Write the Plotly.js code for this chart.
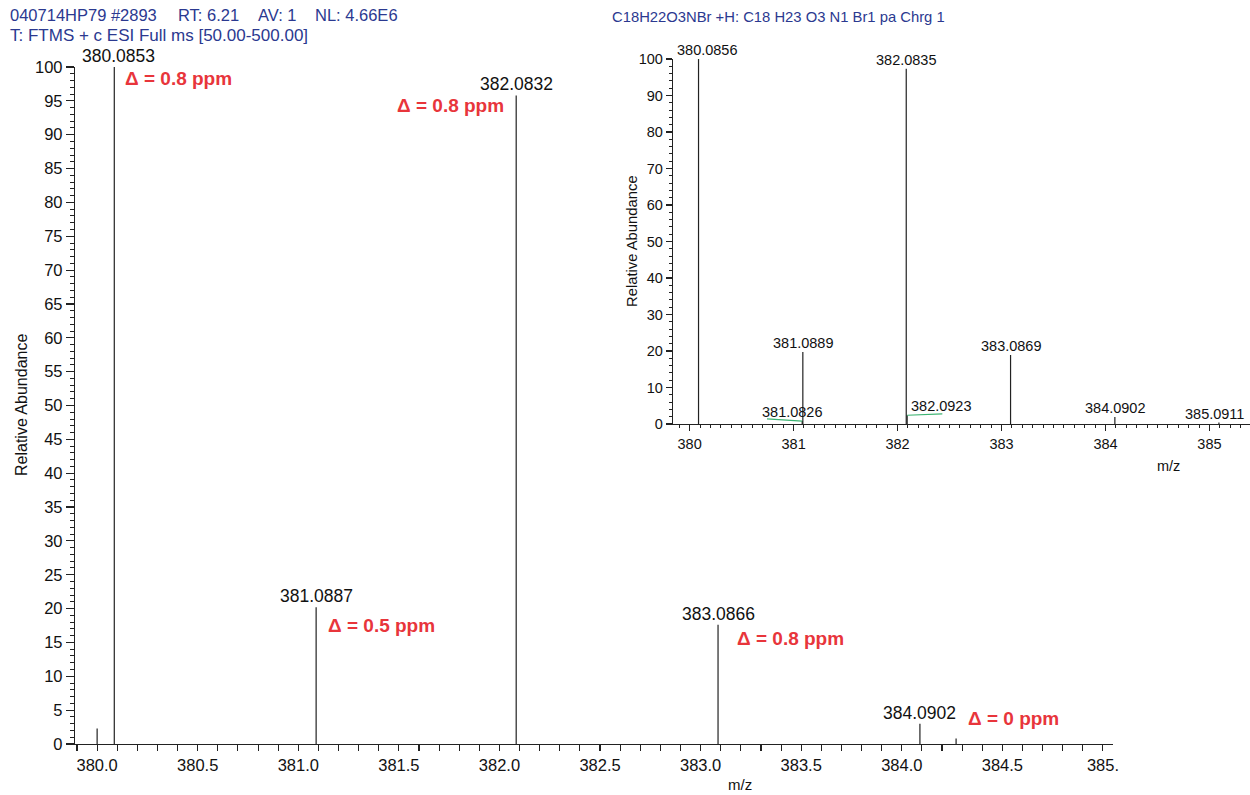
<!DOCTYPE html>
<html>
<head>
<meta charset="utf-8">
<script src="https://cdn.plot.ly/plotly-3.0.1.min.js"></script>
<style>html,body{margin:0;padding:0;background:#fff;}#chart{width:1250px;height:795px;}</style>
</head>
<body>
<div id="chart"></div>
<script>
// ---------- data ----------
const mainMz = [380.0, 380.0853, 381.0887, 382.0832, 383.0866, 384.0902, 384.27];
const mainAbundance = [2.3, 100, 20.2, 95.8, 17.6, 3.0, 0.8];
const mainPeakLabels = ['', '380.0853', '381.0887', '382.0832', '383.0866', '384.0902', ''];
const mainTickVals = [380.0, 380.5, 381.0, 381.5, 382.0, 382.5, 383.0, 383.5, 384.0, 384.5, 385.0];
const mainTickText = ['380.0', '380.5', '381.0', '381.5', '382.0', '382.5', '383.0', '383.5', '384.0', '384.5', '385.'];
const ppmLabels = ['Δ = 0.8 ppm', 'Δ = 0.8 ppm', 'Δ = 0.5 ppm', 'Δ = 0.8 ppm', 'Δ = 0 ppm'];

const insetMz = [380.0856, 381.0826, 381.0889, 382.0835, 382.0923, 383.0869, 384.0902, 385.0911];
const insetAbundance = [100, 0.8, 19.7, 97.3, 2.4, 18.9, 1.9, 0.4];
const insetPeakLabels = ['380.0856', '381.0826', '381.0889', '382.0835', '382.0923', '383.0869', '384.0902', '385.0911'];

const headerLine1 = ['040714HP79 #2893', 'RT: 6.21', 'AV: 1', 'NL: 4.66E6'];
const headerLine2 = 'T: FTMS + c ESI Full ms [50.00-500.00]';
const insetTitle = 'C18H22O3NBr +H: C18 H23 O3 N1 Br1 pa Chrg 1';

// ---------- styling / placement ----------
const W = 1250, H = 795;
const px = v => v / W;
const py = v => 1 - v / H;
const FONT = 'Liberation Sans, Arial, sans-serif';
const NAVY = '#2b3990';
const RED = '#e8353b';
const header1X = [8, 176, 256, 313];
const ppmPos = [[123, 79], [395, 106], [326, 625], [735, 638], [966, 718]];
const insetLabelShift = [8, -10, 0, 0, 34, 0, 0, -4];
const insetLeader = {0: [9, 2.5], 1: [-35, 0.6], 4: [35, 0.4]}; // [dx px, dy units]

function sticks(mz, ab, xa, ya, color) {
  const x = [], y = [];
  mz.forEach((m, i) => { x.push(m, m, null); y.push(0, ab[i], null); });
  return {x, y, xaxis: xa, yaxis: ya, type: 'scatter', mode: 'lines',
          line: {color, width: 1.2}, hoverinfo: 'skip', showlegend: false};
}

const traces = [
  sticks(mainMz, mainAbundance, 'x', 'y', '#222'),
  sticks(insetMz, insetAbundance, 'x2', 'y2', '#222')
];

const annotations = [];
mainMz.forEach((m, i) => {
  if (!mainPeakLabels[i]) return;
  annotations.push({x: m, y: mainAbundance[i], xref: 'x', yref: 'y', text: mainPeakLabels[i],
    showarrow: false, yanchor: 'bottom', xanchor: 'center', xshift: i === 1 ? 4 : 0, yshift: -1,
    font: {family: FONT, size: 17.5, color: '#111'}});
});
insetMz.forEach((m, i) => {
  annotations.push({x: m, y: insetAbundance[i], xref: 'x2', yref: 'y2', text: insetPeakLabels[i],
    showarrow: false, yanchor: 'bottom', xanchor: 'center', xshift: insetLabelShift[i], yshift: -1,
    font: {family: FONT, size: 14.5, color: '#111'}});
});
ppmLabels.forEach((t, i) => {
  annotations.push({x: px(ppmPos[i][0]), y: py(ppmPos[i][1]), xref: 'paper', yref: 'paper', text: '<b>' + t + '</b>',
    showarrow: false, xanchor: 'left', yanchor: 'middle', font: {family: FONT, size: 19, color: RED}});
});
headerLine1.forEach((t, i) => {
  annotations.push({x: px(header1X[i]), y: py(15), xref: 'paper', yref: 'paper', text: t,
    showarrow: false, xanchor: 'left', yanchor: 'middle', font: {family: FONT, size: 16.5, color: NAVY}});
});
annotations.push({x: px(8), y: py(36), xref: 'paper', yref: 'paper', text: headerLine2,
  showarrow: false, xanchor: 'left', yanchor: 'middle', font: {family: FONT, size: 17, color: NAVY}});
annotations.push({x: px(610), y: py(17), xref: 'paper', yref: 'paper', text: insetTitle,
  showarrow: false, xanchor: 'left', yanchor: 'middle', font: {family: FONT, size: 14.8, color: NAVY}});
// axis titles
annotations.push({x: px(21), y: py(405), xref: 'paper', yref: 'paper', text: 'Relative Abundance', textangle: -90,
  showarrow: false, xanchor: 'center', yanchor: 'middle', font: {family: FONT, size: 16, color: '#111'}});
annotations.push({x: px(740), y: py(784), xref: 'paper', yref: 'paper', text: 'm/z',
  showarrow: false, xanchor: 'center', yanchor: 'middle', font: {family: FONT, size: 15, color: '#111'}});
annotations.push({x: px(632), y: py(241), xref: 'paper', yref: 'paper', text: 'Relative Abundance', textangle: -90,
  showarrow: false, xanchor: 'center', yanchor: 'middle', font: {family: FONT, size: 14.8, color: '#111'}});
annotations.push({x: px(1168), y: py(466), xref: 'paper', yref: 'paper', text: 'm/z',
  showarrow: false, xanchor: 'center', yanchor: 'middle', font: {family: FONT, size: 14.5, color: '#111'}});

// green label leaders in inset
const insetUnitPx = 103.5;
const shapes = [];
Object.keys(insetLeader).forEach(k => {
  const i = +k, d = insetLeader[k];
  shapes.push({type: 'line', xref: 'x2', yref: 'y2', x0: insetMz[i], y0: insetAbundance[i],
    x1: insetMz[i] + d[0] / insetUnitPx, y1: insetAbundance[i] + d[1], line: {color: '#3cb371', width: 1.2}});
});

const axBase = {showgrid: false, zeroline: false, showline: true, linecolor: '#222', linewidth: 1.2,
  ticks: 'outside', tickcolor: '#222', tickwidth: 1.1, automargin: false, fixedrange: true};

const layout = {
  width: W, height: H,
  margin: {l: 0, r: 0, t: 0, b: 0},
  paper_bgcolor: '#fff', plot_bgcolor: 'rgba(0,0,0,0)',
  showlegend: false,
  xaxis: Object.assign({}, axBase, {domain: [px(75), px(1113)], range: [379.89, 385.05], anchor: 'y',
    tickmode: 'array', tickvals: mainTickVals, ticktext: mainTickText, ticklen: 6,
    tickfont: {family: FONT, size: 16.5, color: '#111'},
    minor: {dtick: 0.1, tick0: 380, ticks: 'outside', ticklen: 6, tickcolor: '#222', tickwidth: 1.1}}),
  yaxis: Object.assign({}, axBase, {domain: [1 - 744 / H, 1 - 67 / H], range: [0, 100], anchor: 'x',
    dtick: 5, tick0: 0, ticklen: 8, tickfont: {family: FONT, size: 16.5, color: '#111'},
    minor: {dtick: 1, ticks: 'outside', ticklen: 4, tickcolor: '#222', tickwidth: 1}}),
  xaxis2: Object.assign({}, axBase, {domain: [px(673), 1], range: [379.84, 385.39], anchor: 'y2',
    dtick: 1, tick0: 380, ticklen: 6, tickfont: {family: FONT, size: 14.5, color: '#111'},
    minor: {dtick: 0.1, ticks: 'outside', ticklen: 3, tickcolor: '#222', tickwidth: 1}}),
  yaxis2: Object.assign({}, axBase, {domain: [1 - 424 / H, 1 - 59 / H], range: [0, 100], anchor: 'x2',
    dtick: 10, tick0: 0, ticklen: 6, tickfont: {family: FONT, size: 14.5, color: '#111'},
    minor: {dtick: 2, ticks: 'outside', ticklen: 3, tickcolor: '#222', tickwidth: 1}}),
  annotations, shapes
};

Plotly.newPlot('chart', traces, layout, {displayModeBar: false, staticPlot: true});
</script>
</body>
</html>
